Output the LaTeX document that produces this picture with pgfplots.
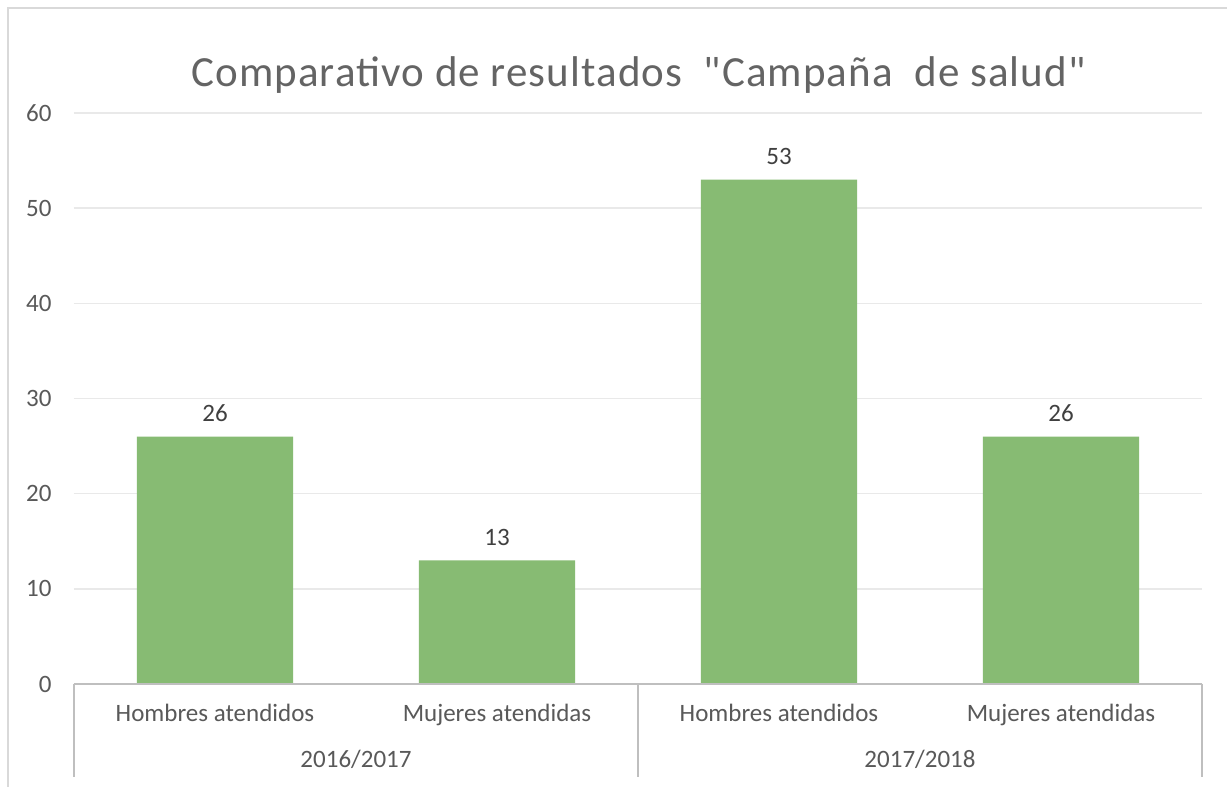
\documentclass[border=0pt]{standalone}
\usepackage{pgfplots}
\pgfplotsset{compat=1.18}
\usepackage{fontspec}
\setmainfont{Carlito}
\newfontfamily\titlefont[LetterSpace=2.5]{Carlito}
\definecolor{bargreen}{RGB}{135,187,115}
\definecolor{txtgray}{RGB}{89,89,89}
\definecolor{titlegray}{RGB}{100,100,100}
\definecolor{lblgray}{RGB}{64,64,64}
\definecolor{gridc}{RGB}{233,233,233}
\definecolor{axc}{RGB}{191,191,191}
\definecolor{borderc}{RGB}{217,217,217}
\begin{document}
\begin{tikzpicture}[x=1pt,y=1pt]
\useasboundingbox (0,0) rectangle (1227,787);
\fill[white] (0,0) rectangle (1227,787);
\draw[borderc, line width=1.5pt] (8,0) -- (8,779) -- (1227,779);
\node[titlegray, font=\titlefont\fontsize{43}{50}\selectfont, anchor=center] at (638.5,712) {Comparativo de resultados\ \ \symbol{34}Campaña\ \ de salud\symbol{34}};
\begin{axis}[
  at={(74pt,103pt)}, anchor=south west,
  scale only axis, width=1128pt, height=571pt,
  ybar, bar width=156pt,
  xmin=-0.5, xmax=3.5, ymin=0, ymax=60,
  ytick={0,10,20,30,40,50,60},
  xtick={0,1,2,3},
  xticklabels={Hombres atendidos,Mujeres atendidas,Hombres atendidos,Mujeres atendidas},
  extra x ticks={0.5,2.5},
  extra x tick labels={2016/2017,2017/2018},
  extra x tick style={major tick length=0pt, grid=none,
    xticklabel style={yshift=-46pt}},
  major tick length=0pt,
  axis line style={draw=none},
  ymajorgrids, grid style={gridc, line width=1.5pt},
  /pgf/number format/assume math mode=true,
  yticklabel style={font=\fontsize{25}{29}\selectfont, txtgray, anchor=east, xshift=-19pt},
  xticklabel style={font=\fontsize{25}{29}\selectfont, txtgray, anchor=base, yshift=-38pt},
  nodes near coords,
  every node near coord/.append style={font=\fontsize{25}{29}\selectfont, lblgray, yshift=11pt},
  clip=false,
]
\addplot[fill=bargreen, draw=none] coordinates {(0,26) (1,13) (2,53) (3,26)};
\draw[axc, line width=2.2pt] (axis cs:-0.5,0) -- (axis cs:3.5,0);
\draw[axc, line width=2.2pt] (axis cs:-0.5,0) -- ([yshift=-93pt]axis cs:-0.5,0);
\draw[axc, line width=2.2pt] (axis cs:1.5,0) -- ([yshift=-93pt]axis cs:1.5,0);
\draw[axc, line width=2.2pt] (axis cs:3.5,0) -- ([yshift=-93pt]axis cs:3.5,0);
\end{axis}
\end{tikzpicture}
\end{document}
